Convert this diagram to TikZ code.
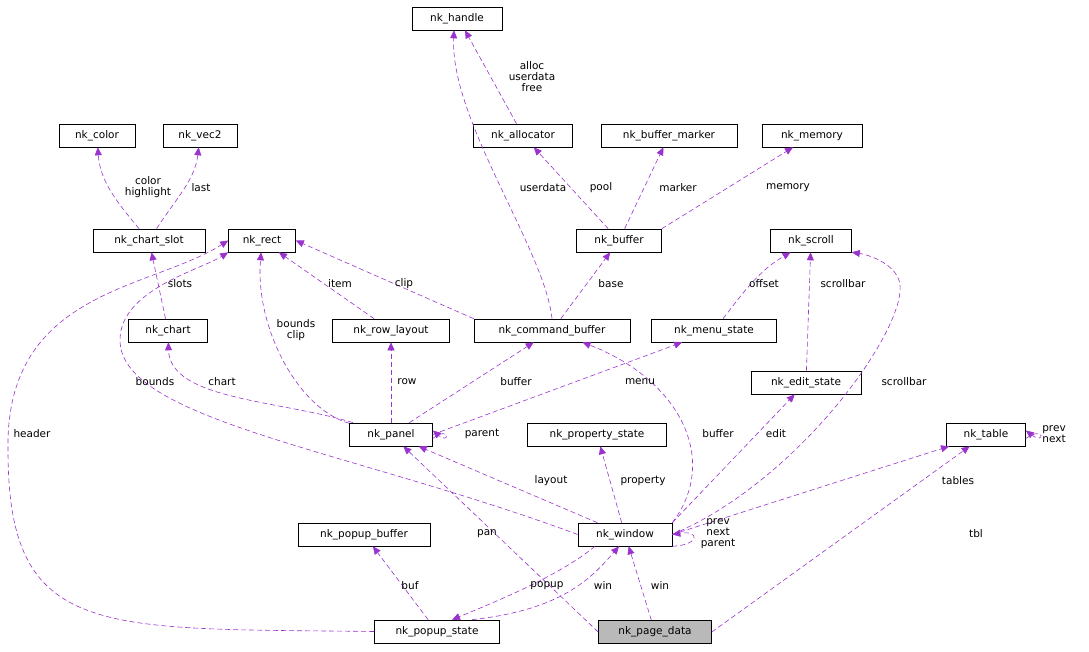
\documentclass[tikz,border=0pt]{standalone}
\usepackage{fontspec}
\setmainfont{DejaVu Sans}
\usetikzlibrary{arrows.meta}
\definecolor{ed}{HTML}{9A32CD}
\begin{document}
\begin{tikzpicture}[x=1pt,y=-1pt,
 box/.style={draw,semithick,fill=white,minimum height=23pt,inner sep=0pt,font=\fontsize{10.5}{11}\selectfont},
 e/.style={draw=ed,semithick,dash pattern=on 5pt off 3pt,-{Triangle[length=8pt,width=7pt]},fill=none},
 lb/.style={font=\fontsize{10.5}{11}\selectfont,align=center,inner sep=0pt}]
\useasboundingbox (0,0) rectangle (1089,652);
\node[box,minimum width=90pt] (handle) at (457,18.5) {nk\_handle};
\node[box,minimum width=99pt] (alloc) at (523,135.5) {nk\_allocator};
\node[box,minimum width=136pt] (marker) at (669,135.5) {nk\_buffer\_marker};
\node[box,minimum width=100pt] (memory) at (812,135.5) {nk\_memory};
\node[box,minimum width=76pt] (color) at (97,135.5) {nk\_color};
\node[box,minimum width=74pt] (vec2) at (200,135.5) {nk\_vec2};
\node[box,minimum width=112pt] (slot) at (149,240.5) {nk\_chart\_slot};
\node[box,minimum width=67pt] (rect) at (262,240.5) {nk\_rect};
\node[box,minimum width=85pt] (buffer) at (619,240.5) {nk\_buffer};
\node[box,minimum width=81pt] (scroll) at (811,240.5) {nk\_scroll};
\node[box,minimum width=79pt] (chart) at (168,330.5) {nk\_chart};
\node[box,minimum width=117pt] (row) at (391,330.5) {nk\_row\_layout};
\node[box,minimum width=156pt] (cmd) at (552,330.5) {nk\_command\_buffer};
\node[box,minimum width=125pt] (menu) at (714,330.5) {nk\_menu\_state};
\node[box,minimum width=110pt] (edit) at (806,382.5) {nk\_edit\_state};
\node[box,minimum width=83pt] (panel) at (391,434.5) {nk\_panel};
\node[box,minimum width=139pt] (prop) at (597,434.5) {nk\_property\_state};
\node[box,minimum width=79pt] (table) at (986,434.5) {nk\_table};
\node[box,minimum width=94pt] (win) at (625,534.5) {nk\_window};
\node[box,minimum width=132pt] (pbuf) at (364,534.5) {nk\_popup\_buffer};
\node[box,minimum width=125pt] (pstate) at (437,631.5) {nk\_popup\_state};
\node[box,minimum width=113pt,fill=gray!55] (page) at (655,632) {nk\_page\_data};

\path[e] (alloc) -- ([xshift=8pt]handle.south);
\path[e] (cmd.north) .. controls (545,250) and (450,120) .. ([xshift=-3pt]handle.south);
\path[e] (buffer) -- (alloc);
\path[e] (buffer) -- (marker);
\path[e] (buffer.north east) -- (memory);
\path[e] (slot) .. controls (115,200) and (100,180) .. (color);
\path[e] (slot) .. controls (175,200) and (195,180) .. (vec2);
\path[e] (chart) -- (slot);
\path[e] (cmd) -- (buffer);
\path[e] (cmd.north west) -- (rect.east);
\path[e] (row) -- (rect);
\path[e] (panel) .. controls (300,410) and (255,330) .. (rect);
\path[e] (panel) .. controls (280,400) and (170,400) .. (chart);
\path[e] (panel) -- (row);
\path[e] (panel) -- (cmd);
\path[e] (panel.east) -- (menu);
\path[e] (menu) .. controls (745,290) and (760,270) .. (scroll);
\path[e] (edit) -- (scroll);
\path[e] ([yshift=-4pt]panel.east) .. controls (450,425) and (450,445) .. ([yshift=4pt]panel.east);
\path[e] (win.west) .. controls (350,450) and (120,420) .. (120,340) .. controls (120,290) and (200,270) .. (rect.south west);
\path[e] (win) -- (panel);
\path[e] (win) -- (prop);
\path[e] (win.north east) .. controls (720,460) and (680,380) .. (cmd);
\path[e] (win.north east) -- (edit);
\path[e] (win.east) .. controls (800,480) and (905,330) .. (900,285) .. controls (898,265) and (870,255) .. (scroll.south east);
\path[e] (win.east) -- (table);
\path[e] ([yshift=-4pt]table.east) .. controls (1045,425) and (1045,445) .. ([yshift=4pt]table.east);
\path[e] (win.south east) .. controls (700,545) and (700,530) .. (win.east);
\path[e] (pstate.west) .. controls (100,628) and (8,640) .. (8,450) .. controls (5,290) and (150,290) .. (rect.west);
\path[e] (pstate) -- (pbuf);
\path[e] ([xshift=35pt]pstate.north) .. controls (560,610) and (590,580) .. ([xshift=-6pt]win.south);
\path[e] ([xshift=-30pt]win.south) .. controls (560,575) and (500,600) .. ([xshift=15pt]pstate.north);
\path[e] (page.west) -- (panel);
\path[e] (page) -- (win);
\path[e] (page.east) -- (table);

\node[lb] at (532,77) {alloc\\userdata\\free};
\node[lb] at (543,188) {userdata};
\node[lb] at (601,188) {pool};
\node[lb] at (678,188) {marker};
\node[lb] at (788,188) {memory};
\node[lb] at (148,187) {color\\highlight};
\node[lb] at (201,188) {last};
\node[lb] at (180,284) {slots};
\node[lb] at (611,284) {base};
\node[lb] at (404,284) {clip};
\node[lb] at (340,284) {item};
\node[lb] at (296,330) {bounds\\clip};
\node[lb] at (222,382) {chart};
\node[lb] at (407,382) {row};
\node[lb] at (516,382) {buffer};
\node[lb] at (640,382) {menu};
\node[lb] at (764,284) {offset};
\node[lb] at (843,284) {scrollbar};
\node[lb] at (482,434) {parent};
\node[lb] at (155,382) {bounds};
\node[lb] at (551,481) {layout};
\node[lb] at (643,481) {property};
\node[lb] at (718,434) {buffer};
\node[lb] at (776,434) {edit};
\node[lb] at (904,382) {scrollbar};
\node[lb] at (958,481) {tables};
\node[lb] at (1054,434) {prev\\next};
\node[lb] at (718,534) {prev\\next\\parent};
\node[lb] at (32,434) {header};
\node[lb] at (410,586) {buf};
\node[lb] at (603,586) {win};
\node[lb] at (547,586) {popup};
\node[lb] at (487,534) {pan};
\node[lb] at (660,586) {win};
\node[lb] at (976,534) {tbl};
\end{tikzpicture}
\end{document}
